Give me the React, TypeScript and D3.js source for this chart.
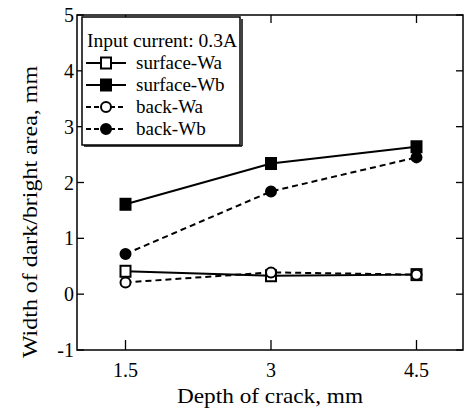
import React, { useEffect, useRef } from 'react';
import * as d3 from 'd3';

// depth of crack (mm)
const depths = [1.5, 3, 4.5];
// widths (mm)
const surfaceWa = [0.41, 0.33, 0.35];
const surfaceWb = [1.61, 2.34, 2.64];
const backWa = [0.21, 0.39, 0.35];
const backWb = [0.72, 1.84, 2.45];

const yTicks = [-1, 0, 1, 2, 3, 4, 5];
const xTicks = [1.5, 3, 4.5];

const seriesNames = ['surface-Wa', 'surface-Wb', 'back-Wa', 'back-Wb'];
const legendTitle = 'Input current: 0.3A';

const FONT = '"Liberation Serif", "Times New Roman", serif';

const App = () => {
    const ref = useRef<SVGSVGElement>(null);

    useEffect(() => {
        const svg = d3.select(ref.current);
        svg.selectAll('*').remove();

        const left = 77, right = 463, top = 15, bottom = 350;

        const x = d3.scaleLinear().domain([1, 5]).range([left, right + 2]);
        const y = d3.scaleLinear().domain([-1, 5]).range([bottom, top]);

        const g = svg.append('g');

        // frame
        g.append('rect')
            .attr('x', left).attr('y', top)
            .attr('width', right - left).attr('height', bottom - top)
            .attr('fill', 'none').attr('stroke', '#000').attr('stroke-width', 1.5);

        // ticks, all pointing inward
        yTicks.forEach(t => {
            g.append('line').attr('x1', left).attr('x2', left + 7)
                .attr('y1', y(t)).attr('y2', y(t)).attr('stroke', '#000').attr('stroke-width', 1.3);
            g.append('line').attr('x1', right - 7).attr('x2', right)
                .attr('y1', y(t)).attr('y2', y(t)).attr('stroke', '#000').attr('stroke-width', 1.3);
            g.append('text')
                .attr('x', left - 3).attr('y', y(t) + 7)
                .attr('text-anchor', 'end')
                .attr('font-family', FONT).attr('font-size', 20)
                .text(t);
        });
        xTicks.forEach(t => {
            g.append('line').attr('x1', x(t)).attr('x2', x(t))
                .attr('y1', bottom).attr('y2', bottom - 10).attr('stroke', '#000').attr('stroke-width', 1.3);
            g.append('line').attr('x1', x(t)).attr('x2', x(t))
                .attr('y1', top).attr('y2', top + 8).attr('stroke', '#000').attr('stroke-width', 1.3);
            g.append('text')
                .attr('x', x(t)).attr('y', 377)
                .attr('text-anchor', 'middle')
                .attr('font-family', FONT).attr('font-size', 20)
                .text(t);
        });

        // axis labels
        g.append('text')
            .attr('x', 270).attr('y', 403)
            .attr('text-anchor', 'middle')
            .attr('font-family', FONT).attr('font-size', 21)
            .attr('textLength', 186).attr('lengthAdjust', 'spacingAndGlyphs')
            .text('Depth of crack, mm');
        g.append('text')
            .attr('transform', 'translate(37,212) rotate(-90)')
            .attr('text-anchor', 'middle')
            .attr('font-family', FONT).attr('font-size', 21)
            .attr('textLength', 292).attr('lengthAdjust', 'spacingAndGlyphs')
            .text('Width of dark/bright area, mm');

        const allSeries = [surfaceWa, surfaceWb, backWa, backWb];
        const dashed = [false, false, true, true];
        const filled = [false, true, false, true];
        const square = [true, true, false, false];

        const line = d3.line<number>()
            .x((_, i) => x(depths[i]))
            .y(d => y(d));

        const drawMarker = (sel: any, cx: number, cy: number, k: number) => {
            if (square[k]) {
                sel.append('rect')
                    .attr('x', cx - 5).attr('y', cy - 5.5)
                    .attr('width', 10).attr('height', 11)
                    .attr('fill', filled[k] ? '#000' : '#fff')
                    .attr('stroke', '#000').attr('stroke-width', 2);
            } else {
                sel.append('circle')
                    .attr('cx', cx).attr('cy', cy).attr('r', 5)
                    .attr('fill', filled[k] ? '#000' : '#fff')
                    .attr('stroke', '#000').attr('stroke-width', 2);
            }
        };

        // lines first so markers sit on top
        allSeries.forEach((vals, k) => {
            g.append('path')
                .attr('d', line(vals))
                .attr('fill', 'none')
                .attr('stroke', '#000')
                .attr('stroke-width', 2)
                .attr('stroke-dasharray', dashed[k] ? '6,4' : null);
        });
        allSeries.forEach((vals, k) => {
            vals.forEach((v, i) => drawMarker(g, x(depths[i]), y(v), k));
        });

        // legend
        const lg = g.append('g');
        lg.append('rect')
            .attr('x', 82).attr('y', 17).attr('width', 158).attr('height', 128)
            .attr('fill', '#fff').attr('stroke', '#000').attr('stroke-width', 1.5);
        lg.append('line').attr('x1', 242).attr('x2', 242).attr('y1', 19).attr('y2', 146)
            .attr('stroke', '#000').attr('stroke-width', 1.5);
        lg.append('line').attr('x1', 84).attr('x2', 242).attr('y1', 146).attr('y2', 146)
            .attr('stroke', '#000').attr('stroke-width', 1.5);
        lg.append('text')
            .attr('x', 87).attr('y', 47)
            .attr('font-family', FONT).attr('font-size', 19)
            .attr('textLength', 150).attr('lengthAdjust', 'spacingAndGlyphs')
            .text(legendTitle);
        seriesNames.forEach((name, k) => {
            const cy = 63 + k * 22;
            lg.append('line')
                .attr('x1', 86).attr('x2', 126).attr('y1', cy).attr('y2', cy)
                .attr('stroke', '#000').attr('stroke-width', 2)
                .attr('stroke-dasharray', dashed[k] ? '5,3' : null);
            drawMarker(lg, 106, cy, k);
            lg.append('text')
                .attr('x', 136).attr('y', cy + 6)
                .attr('font-family', FONT).attr('font-size', 19)
                .text(name);
        });
    }, []);

    return (
        <svg ref={ref} width={465} height={411}
            style={{ position: 'absolute', left: 0, top: 0, background: '#fff' }} />
    );
};

export default App;
